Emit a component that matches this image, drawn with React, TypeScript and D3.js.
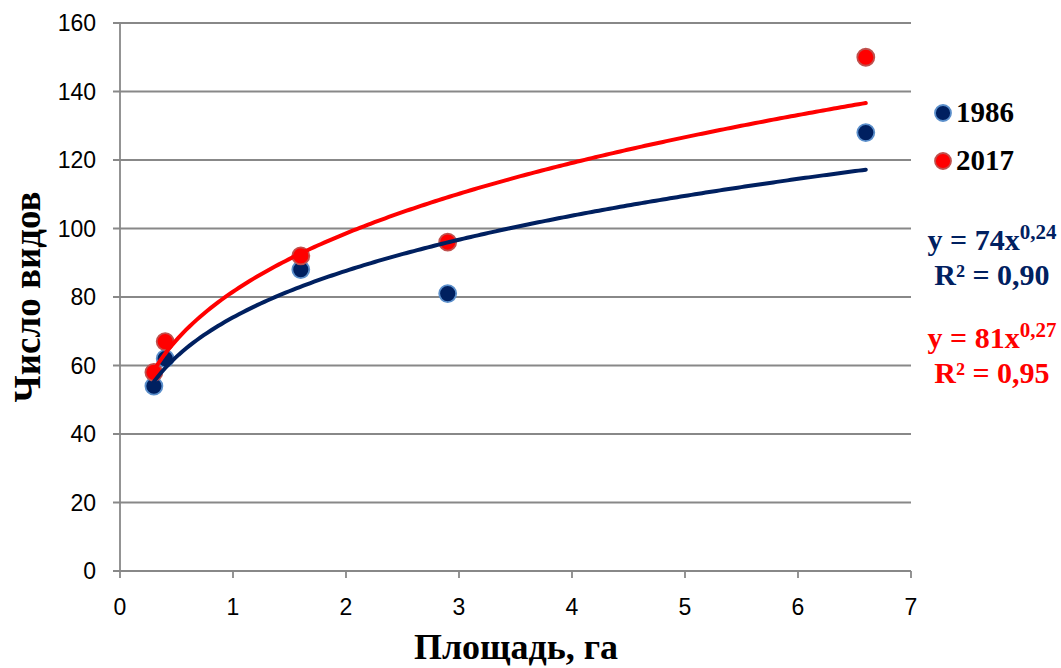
import React from "react";
import * as d3 from "d3";

const xs1986 = [0.3, 0.4, 1.6, 2.9, 6.6];
const ys1986 = [54, 62, 88, 81, 128];
const xs2017 = [0.3, 0.4, 1.6, 2.9, 6.6];
const ys2017 = [58, 67, 92, 96, 150];
const xTicks = [0, 1, 2, 3, 4, 5, 6, 7];
const yTicks = [0, 20, 40, 60, 80, 100, 120, 140, 160];
const seriesNames = ["1986", "2017"];
const eqCoef = ["74", "81"];
const eqExp = ["0,24", "0,27"];
const eqR2 = ["0,90", "0,95"];

const W = 1061, H = 668;
const x = d3.scaleLinear().domain([0, 7]).range([120, 911]);
const y = d3.scaleLinear().domain([0, 160]).range([571, 23]);

function powerFit(xv: number[], yv: number[]) {
  const lx = xv.map(Math.log), ly = yv.map(Math.log);
  const mx = d3.mean(lx)!, my = d3.mean(ly)!;
  let num = 0, den = 0;
  lx.forEach((v, i) => { num += (v - mx) * (ly[i] - my); den += (v - mx) ** 2; });
  const b = num / den;
  const a = Math.exp(my - b * mx);
  return (t: number) => a * Math.pow(t, b);
}

const series = [
  { xs: xs1986, ys: ys1986, fill: "#002060", stroke: "#5B8FCB", line: "#002060" },
  { xs: xs2017, ys: ys2017, fill: "#FF0000", stroke: "#C0504D", line: "#FF0000" },
];

const SANS = "Liberation Sans, Arial, sans-serif";
const SERIF = "Liberation Serif, Times New Roman, serif";

export default function App() {
  const paths = series.map(s => {
    const f = powerFit(s.xs, s.ys);
    const lo = d3.min(s.xs)!, hi = d3.max(s.xs)!;
    const pts = d3.range(0, 201).map(i => lo + (hi - lo) * i / 200);
    return d3.line<number>().x(t => x(t)).y(t => y(f(t)))(pts) || "";
  });
  const grid = "#888888";
  return (
    <svg width={W} height={H} style={{ position: "absolute", left: 0, top: 0, display: "block", background: "#fff" }}>
      {yTicks.map(t => (
        <g key={"y" + t}>
          <line x1={113} x2={911} y1={y(t)} y2={y(t)} stroke={grid} strokeWidth={1.8} />
          <text x={96} y={y(t) + 8} textAnchor="end" fontFamily={SANS} fontSize={23} fill="#000">{t}</text>
        </g>
      ))}
      <line x1={120} x2={120} y1={23} y2={571} stroke={grid} strokeWidth={1.8} />
      {xTicks.map(t => (
        <g key={"x" + t}>
          <line x1={x(t)} x2={x(t)} y1={571} y2={578} stroke={grid} strokeWidth={1.8} />
          <text x={x(t)} y={615} textAnchor="middle" fontFamily={SANS} fontSize={23} fill="#000">{t}</text>
        </g>
      ))}
      {series.map((s, si) => s.xs.map((v, i) => (
        <circle key={si + "-" + i} cx={x(v)} cy={y(s.ys[i])} r={8.5} fill={s.fill} stroke={s.stroke} strokeWidth={1.8} />
      )))}
      {paths.map((p, i) => (
        <path key={"p" + i} d={p} fill="none" stroke={series[i].line} strokeWidth={4} strokeLinecap="round" />
      ))}
      {seriesNames.map((n, i) => (
        <g key={"lg" + i}>
          <circle cx={943} cy={113 + i * 48} r={8} fill={series[i].fill} stroke={series[i].stroke} strokeWidth={1.8} />
          <text x={956} y={122 + i * 48} fontFamily={SERIF} fontWeight="bold" fontSize={29} fill="#000">{n}</text>
        </g>
      ))}
      {eqCoef.map((c, i) => (
        <g key={"eq" + i} fontFamily={SERIF} fontWeight="bold" fill={series[i].line}>
          <text x={992} y={250 + i * 98} textAnchor="middle" fontSize={30}>
            {"y = " + c + "x"}<tspan fontSize={21} dy={-11}>{eqExp[i]}</tspan>
          </text>
          <text x={992} y={285 + i * 98} textAnchor="middle" fontSize={30}>{"R² = " + eqR2[i]}</text>
        </g>
      ))}
      <text x={516} y={659} textAnchor="middle" fontFamily={SERIF} fontWeight="bold" fontSize={36} fill="#000">Площадь, га</text>
      <text transform="translate(40,297) rotate(-90)" textAnchor="middle" fontFamily={SERIF} fontWeight="bold" fontSize={37} fill="#000">Число видов</text>
    </svg>
  );
}
